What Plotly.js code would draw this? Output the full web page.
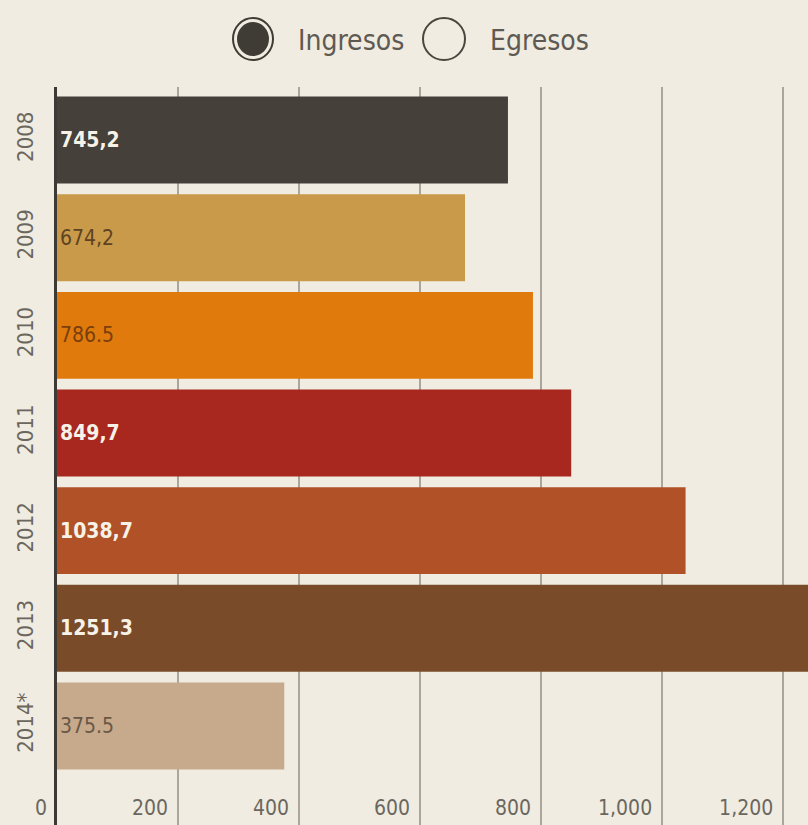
<!DOCTYPE html>
<html>
<head>
<meta charset="utf-8">
<script src="https://cdn.plot.ly/plotly-3.0.1.min.js"></script>
<style>
  html, body { margin: 0; padding: 0; background: #f0ece1; }
  #chart { width: 808px; height: 825px; }
</style>
</head>
<body>
<div id="chart"></div>
<script>
// ---- data ----
const years = ["2008", "2009", "2010", "2011", "2012", "2013", "2014*"];
const ingresos = [745.2, 674.2, 786.5, 849.7, 1038.7, 1251.3, 375.5];
const barLabels = ["745,2", "674,2", "786.5", "849,7", "1038,7", "1251,3", "375.5"];
const xTickVals = [0, 200, 400, 600, 800, 1000, 1200];
const xTickText = ["0", "200", "400", "600", "800", "1,000", "1,200"];
const legendNames = ["Ingresos", "Egresos"];

// ---- styles ----
const barColors = ["#45403a", "#c99a4a", "#e07a0c", "#a8271e", "#b05127", "#7a4b28", "#c7a98b"];
const labelColors = ["#f7f2e8", "#5e4322", "#7a3f0c", "#f7f2e8", "#f7f2e8", "#f7f2e8", "#6a5846"];
const labelWeights = ["bold", "normal", "normal", "bold", "bold", "bold", "normal"];
const FONT = "'DejaVu Sans Condensed', 'Liberation Sans Narrow', sans-serif";

const trace = {
  type: "bar",
  orientation: "h",
  y: years,
  x: ingresos,
  text: barLabels,
  textposition: "inside",
  insidetextanchor: "start",
  textangle: 0,
  constraintext: "none",
  cliponaxis: true,
  textfont: { family: FONT, size: 21, color: labelColors, weight: labelWeights },
  marker: { color: barColors, line: { width: 0 } },
  hoverinfo: "x+y",
  showlegend: false
};

// legend drawn as shapes + annotations at pixel offsets from paper anchors
const L = 57, T = 87, W = 808, H = 825;
const pw = W - L, ph = H - T;
function px(x) { return (x - L) / pw; }
function py(y) { return (H - y) / ph; }

const shapes = [
  // Ingresos: ring + filled dot
  { type: "circle", xref: "paper", yref: "paper", xsizemode: "pixel", ysizemode: "pixel",
    xanchor: px(253), yanchor: py(39), x0: -20, x1: 20, y0: -21, y1: 21,
    line: { color: "#3f3b35", width: 2 }, fillcolor: "rgba(0,0,0,0)" },
  { type: "circle", xref: "paper", yref: "paper", xsizemode: "pixel", ysizemode: "pixel",
    xanchor: px(253), yanchor: py(39), x0: -16, x1: 16, y0: -17, y1: 17,
    line: { color: "#3f3b35", width: 0 }, fillcolor: "#3f3b35" },
  // Egresos: empty ring
  { type: "circle", xref: "paper", yref: "paper", xsizemode: "pixel", ysizemode: "pixel",
    xanchor: px(444), yanchor: py(39), x0: -21, x1: 21, y0: -21, y1: 21,
    line: { color: "#4a463f", width: 2 }, fillcolor: "rgba(0,0,0,0)" }
];

const annotations = [
  { text: legendNames[0], xref: "paper", yref: "paper", x: px(296), y: py(41),
    xanchor: "left", yanchor: "middle", showarrow: false,
    font: { family: FONT, size: 28, color: "#5e5a53" } },
  { text: legendNames[1], xref: "paper", yref: "paper", x: px(488), y: py(41),
    xanchor: "left", yanchor: "middle", showarrow: false,
    font: { family: FONT, size: 28, color: "#5e5a53" } }
];

const layout = {
  width: W, height: H,
  margin: { l: L, r: 0, t: T, b: 0, pad: 0 },
  paper_bgcolor: "#f0ece1",
  plot_bgcolor: "#f0ece1",
  bargap: 0.11,
  showlegend: false,
  xaxis: {
    range: [0, 1241],
    tickvals: xTickVals,
    ticktext: xTickText,
    showgrid: true,
    gridcolor: "#aaa69d",
    gridwidth: 1.5,
    zeroline: false,
    showline: false,
    ticks: "",
    ticklabelposition: "inside left",
    ticklabeloverflow: "allow",
    ticklabelshift: -10,
    ticklabelstandoff: 0,
    tickfont: { family: FONT, size: 21, color: "#6b675f" },
    fixedrange: true
  },
  yaxis: {
    type: "category",
    categoryorder: "array",
    categoryarray: years,
    range: [7.014, -0.543],
    showgrid: false,
    zeroline: false,
    showline: true,
    linecolor: "#3d3a35",
    linewidth: 3,
    ticks: "",
    tickangle: -90,
    ticklabelstandoff: 12,
    tickfont: { family: FONT, size: 22, color: "#6b675f" },
    fixedrange: true
  },
  shapes: shapes,
  annotations: annotations
};

Plotly.newPlot("chart", [trace], layout, { displayModeBar: false, staticPlot: true });
</script>
</body>
</html>
